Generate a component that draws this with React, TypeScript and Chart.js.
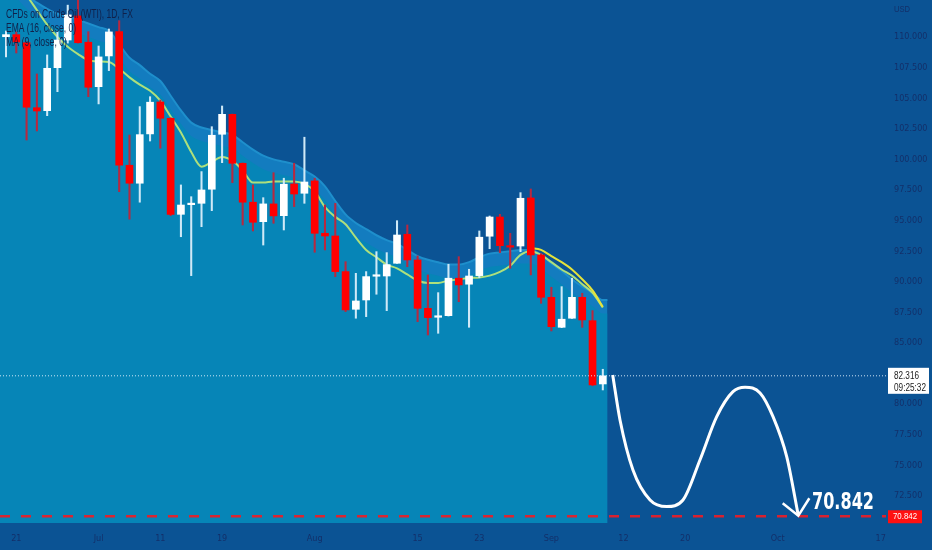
import React, { useEffect, useRef } from 'react';
import { Chart, registerables } from 'chart.js';
Chart.register(...registerables);

// ---- Data ----
const opens = [110.02, 110.19, 109.53, 104.22, 103.98, 107.49, 109.75, 111.72, 109.57, 105.94, 108.45, 110.43, 99.52, 98.05, 102.08, 104.69, 103.36, 95.51, 96.3, 96.41, 97.56, 102.05, 103.68, 99.68, 96.5, 94.91, 96.36, 95.4, 97.99, 97.23, 98.24, 93.96, 93.74, 90.83, 87.75, 88.51, 90.45, 90.47, 91.51, 93.88, 91.78, 87.83, 87.1, 87.23, 90.29, 89.8, 90.5, 93.72, 95.29, 92.93, 92.92, 96.85, 92.19, 88.73, 86.28, 87.02, 88.73, 86.82, 81.65];
const highs = [110.49, 110.41, 109.6, 106.98, 108.53, 110.43, 112.6, 113.5, 110.43, 109.26, 110.65, 111.33, 101.99, 104.31, 105.12, 104.85, 103.4, 97.91, 96.95, 99.0, 102.67, 104.36, 103.7, 99.7, 97.91, 96.87, 98.91, 98.46, 99.68, 101.81, 98.46, 96.27, 96.41, 91.64, 90.69, 90.83, 92.46, 92.38, 94.99, 94.64, 92.11, 90.56, 89.11, 91.43, 92.05, 91.02, 94.15, 95.37, 95.51, 93.96, 97.28, 97.58, 92.3, 89.55, 89.6, 90.29, 89.06, 87.64, 82.85];
const lows = [108.37, 108.69, 101.58, 102.32, 103.57, 105.53, 109.5, 109.5, 105.12, 104.53, 107.25, 97.36, 95.11, 96.5, 101.5, 100.91, 95.4, 93.68, 90.5, 94.5, 95.81, 99.73, 98.1, 94.64, 94.15, 93.0, 94.78, 94.23, 96.14, 96.41, 92.41, 92.6, 90.42, 87.56, 87.02, 87.15, 88.98, 87.64, 91.5, 91.23, 86.74, 85.65, 85.79, 87.2, 88.37, 86.28, 90.33, 92.7, 92.38, 91.1, 92.46, 90.56, 88.24, 85.98, 86.25, 87.0, 86.28, 81.5, 81.16];
const closes = [110.19, 109.59, 104.26, 103.95, 107.44, 109.75, 111.8, 109.53, 105.89, 108.37, 110.41, 99.52, 98.05, 102.02, 104.67, 103.36, 95.51, 96.27, 96.4, 97.5, 101.97, 103.68, 99.68, 96.5, 94.86, 96.36, 95.38, 97.97, 97.17, 98.15, 93.96, 93.74, 90.83, 87.7, 88.43, 90.42, 90.55, 91.4, 93.82, 91.78, 87.83, 87.07, 87.2, 90.29, 89.74, 90.47, 93.64, 95.29, 92.95, 92.83, 96.82, 92.19, 88.73, 86.33, 86.94, 88.73, 86.88, 81.57, 82.316];

const cloudUpper = [115.0, 114.3, 113.4, 112.8, 112.3, 111.9, 111.7, 111.4, 111.1, 110.8, 110.5, 109.4, 108.3, 107.7, 107.0, 106.4, 105.2, 104.0, 103.0, 102.6, 102.4, 102.2, 102.0, 101.4, 100.8, 100.3, 100.0, 99.8, 99.6, 99.1, 98.6, 97.8, 96.6, 95.5, 94.8, 94.3, 93.8, 93.4, 93.1, 92.6, 92.1, 91.8, 91.6, 91.4, 91.4, 91.6, 92.0, 92.3, 92.4, 92.5, 92.6, 92.6, 92.2, 91.5, 90.9, 90.2, 89.6, 89.1, 88.5];
const cloudInner = [113.9, 113.2, 112.3, 111.7, 111.2, 110.8, 110.6, 110.3, 110.0, 109.7, 109.4, 108.3, 107.2, 106.6, 105.9, 105.3, 104.1, 102.9, 101.9, 101.5, 101.3, 101.1, 100.9, 100.3, 99.7, 99.2, 98.9, 98.7, 98.5, 98.0, 97.5, 96.7, 95.5, 94.4, 93.7, 93.2, 92.7, 92.3, 92.0, 91.5, 91.0, 90.7, 90.5, 90.3, 90.3, 90.5, 90.9, 91.2, 91.3, 91.4, 91.5, 91.5, 91.1, 90.4, 89.8, 89.1, 88.5, 88.0, 87.4];
const ma9 = [115.5, 114.5, 113.4, 112.2, 111.0, 110.0, 109.2, 108.6, 108.1, 108.0, 107.95, 107.4, 106.7, 106.1, 105.6, 104.8, 103.5, 102.2, 100.6, 99.4, 99.8, 100.2, 99.9, 99.1, 98.1, 98.1, 98.2, 98.2, 98.2, 98.0, 97.4, 96.1, 95.3, 94.7, 93.6, 92.6, 92.0, 91.4, 91.1, 90.6, 90.1, 89.9, 89.9, 90.1, 90.2, 90.3, 90.35, 90.5, 90.8, 91.3, 92.2, 92.5, 92.2, 91.6, 91.0, 90.5, 89.8, 89.1, 87.9];
const emaTailStart = 51;
const emaTail = [92.75, 92.6, 92.1, 91.6, 91.0, 90.2, 89.3, 87.95];

const xTickIdx = [1, 9, 15, 21, 30, 40, 46, 53, 60, 66, 75, 85];
const xTickLabels = ['21', 'Jul', '11', '19', 'Aug', '15', '23', 'Sep', '12', '20', 'Oct', '17'];
const yTicks = [72.5, 75, 77.5, 80, 82.5, 85, 87.5, 90, 92.5, 95, 97.5, 100, 102.5, 105, 107.5, 110];

const lastPrice = 82.316;
const targetPrice = 70.842;
const countdown = '09:25:32';
const titleLines = ['CFDs on Crude Oil (WTI), 1D, FX', 'EMA (16, close, 0)', 'MA (9, close, 0)'];

const projX = [58.96, 59.67, 60.93, 62.59, 64.21, 65.79, 67.44, 69.07, 70.65, 71.82, 73.28, 74.54, 75.87, 77.0];
const projY = [82.39, 78.71, 74.62, 72.17, 71.63, 72.17, 75.44, 78.98, 81.02, 81.38, 80.92, 78.98, 75.71, 70.9];
const arrowX = [75.48, 77.0, 78.07];
const arrowY = [71.9, 70.89, 72.31];

const X_MIN = -0.583;
const X_MAX = 85.52;
const Y_MIN = 70.29;
const Y_MAX = 113.02;

const BG = '#0b5394';
const AXIS_TXT = '#13306a';
const NARROW = "'Liberation Sans Narrow', 'DejaVu Sans Condensed', 'Liberation Sans', Arial, sans-serif";

function drawFitted(ctx: CanvasRenderingContext2D, text: string, x: number, y: number, width: number, font: string, color: string) {
  ctx.save();
  ctx.font = font;
  const w = ctx.measureText(text).width || 1;
  ctx.translate(x, y);
  ctx.scale(width / w, 1);
  ctx.fillStyle = color;
  ctx.textBaseline = 'middle';
  ctx.textAlign = 'left';
  ctx.fillText(text, 0, 0);
  ctx.restore();
}

const decoPlugin = {
  id: 'deco',
  beforeDraw(chart: any) {
    const ctx = chart.ctx as CanvasRenderingContext2D;
    ctx.save();
    ctx.fillStyle = BG;
    ctx.fillRect(0, 0, chart.width, chart.height);
    ctx.restore();
  },
  afterDraw(chart: any) {
    const ctx = chart.ctx as CanvasRenderingContext2D;
    const ys = chart.scales.y;
    const area = chart.chartArea;
    const tf = "13px 'Liberation Sans', Arial, sans-serif";
    drawFitted(ctx, titleLines[0], 6, 14, 127, tf, '#10214a');
    drawFitted(ctx, titleLines[1], 6, 28, 70, tf, '#10214a');
    drawFitted(ctx, titleLines[2], 6, 42, 61, tf, '#10214a');
    drawFitted(ctx, 'USD', 894, 10, 16, "9px 'Liberation Sans', Arial, sans-serif", AXIS_TXT);
    // last price box
    const py = ys.getPixelForValue(lastPrice);
    ctx.save();
    ctx.fillStyle = '#ffffff';
    ctx.fillRect(area.right + 2, py - 8, 41, 26);
    ctx.restore();
    drawFitted(ctx, lastPrice.toFixed(3), 894, py, 25, "10px 'Liberation Sans', Arial, sans-serif", '#1b1b1b');
    drawFitted(ctx, countdown, 894, py + 12, 32, "10px 'Liberation Sans', Arial, sans-serif", '#1b1b1b');
    // target box
    const ty = ys.getPixelForValue(targetPrice);
    ctx.save();
    ctx.fillStyle = '#ff1111';
    ctx.fillRect(area.right + 2, ty - 6, 34, 13);
    ctx.restore();
    drawFitted(ctx, targetPrice.toFixed(3), 893, ty + 0.5, 24, "9px 'Liberation Sans', Arial, sans-serif", '#ffffff');
    drawFitted(ctx, targetPrice.toFixed(3), 812, ty - 13, 62, "bold 23px 'DejaVu Sans', sans-serif", '#ffffff');
  },
};

export default function App() {
  const ref = useRef<HTMLCanvasElement>(null);
  useEffect(() => {
    document.body.style.margin = '0';
    const canvas = ref.current;
    if (!canvas) return;
    const n = closes.length;
    const idx = closes.map((_, i) => i);
    const up = closes.map((c, i) => c >= opens[i]);
    const lastX = n - 1 + 0.45;
    const cloudPts = (arr: number[]) => [{ x: X_MIN, y: arr[0] }, ...arr.map((v, i) => ({ x: i, y: v })), { x: lastX, y: arr[n - 1] }];

    const chart = new Chart(canvas, {
      type: 'line',
      data: {
        datasets: [
          {
            type: 'line', label: 'cloud', data: cloudPts(cloudUpper), order: 20,
            borderColor: '#1e8fcc', borderWidth: 2, backgroundColor: '#137cbf', fill: 'start',
            pointRadius: 0, cubicInterpolationMode: 'monotone',
          },
          {
            type: 'line', label: 'cloudInner', data: cloudPts(cloudInner), order: 19,
            borderColor: 'rgba(0,0,0,0)', borderWidth: 0, backgroundColor: '#0685b7', fill: 'start',
            pointRadius: 0, cubicInterpolationMode: 'monotone',
          },
          {
            type: 'line', label: 'MA 9', data: ma9.map((v, i) => ({ x: i, y: v })), order: 15,
            borderColor: '#ade07c', borderWidth: 2, pointRadius: 0, fill: false, cubicInterpolationMode: 'monotone',
          },
          {
            type: 'line', label: 'EMA 16', data: emaTail.map((v, i) => ({ x: emaTailStart + i, y: v })), order: 14,
            borderColor: '#e6e33a', borderWidth: 2, pointRadius: 0, fill: false, cubicInterpolationMode: 'monotone',
          },
          {
            type: 'bar', label: 'wicks', data: idx.map((i) => ({ x: i, y: [lows[i], highs[i]] })) as any, order: 12,
            backgroundColor: idx.map((i) => (up[i] ? '#cfe9f7' : '#b8283f')),
            grouped: false, barPercentage: 1, categoryPercentage: 1, maxBarThickness: 1.4, borderWidth: 0,
          } as any,
          {
            type: 'bar', label: 'bodies', data: idx.map((i) => ({ x: i, y: [Math.min(opens[i], closes[i]), Math.max(opens[i], closes[i])] })) as any, order: 11,
            backgroundColor: idx.map((i) => (up[i] ? '#ffffff' : '#ff0000')),
            grouped: false, barPercentage: 1, categoryPercentage: 1, maxBarThickness: 7, borderWidth: 0, minBarLength: 1.5,
          } as any,
          {
            type: 'line', label: 'last', data: [{ x: X_MIN, y: lastPrice }, { x: X_MAX, y: lastPrice }], order: 5,
            borderColor: 'rgba(225,242,255,0.9)', borderWidth: 1, borderDash: [1, 2], pointRadius: 0, fill: false,
          },
          {
            type: 'line', label: 'target', data: [{ x: X_MIN, y: targetPrice }, { x: X_MAX, y: targetPrice }], order: 5,
            borderColor: 'rgba(240,28,36,0.9)', borderWidth: 2.6, borderDash: [10, 11], pointRadius: 0, fill: false,
          },
          {
            type: 'line', label: 'projection', data: projX.map((x, i) => ({ x, y: projY[i] })), order: 2,
            borderColor: '#ffffff', borderWidth: 3, pointRadius: 0, fill: false, cubicInterpolationMode: 'monotone',
          },
          {
            type: 'line', label: 'arrow', data: arrowX.map((x, i) => ({ x, y: arrowY[i] })), order: 1,
            borderColor: '#ffffff', borderWidth: 2.5, pointRadius: 0, fill: false, tension: 0,
          },
        ] as any,
      },
      options: {
        animation: false,
        responsive: false,
        devicePixelRatio: 1,
        events: [],
        layout: { padding: 0 },
        plugins: { legend: { display: false }, tooltip: { enabled: false } },
        scales: {
          x: {
            type: 'linear', min: X_MIN, max: X_MAX, offset: false, bounds: 'data',
            grid: { display: false, drawTicks: false }, border: { display: false },
            afterBuildTicks: (s: any) => { s.ticks = xTickIdx.map((v) => ({ value: v })); },
            afterFit: (s: any) => { s.height = 27; s.paddingLeft = 0; s.paddingRight = 0; s.paddingTop = 0; s.paddingBottom = 0; },
            ticks: {
              autoSkip: false, maxRotation: 0, padding: 10, color: AXIS_TXT,
              font: { family: NARROW, size: 9 },
              callback: (_v: any, i: number) => xTickLabels[i],
            },
          },
          y: {
            type: 'linear', position: 'right', min: Y_MIN, max: Y_MAX, bounds: 'data',
            grid: { display: false, drawTicks: false }, border: { display: false },
            afterBuildTicks: (s: any) => { s.ticks = yTicks.map((v) => ({ value: v })); },
            afterFit: (s: any) => { s.width = 46; s.paddingLeft = 0; s.paddingRight = 0; s.paddingTop = 0; s.paddingBottom = 0; },
            ticks: {
              padding: 8, color: AXIS_TXT, font: { family: NARROW, size: 9 },
              callback: (v: any) => Number(v).toFixed(3),
            },
          },
        },
      } as any,
      plugins: [decoPlugin],
    });
    return () => chart.destroy();
  }, []);
  return (
    <div style={{ width: 932, height: 550 }}>
      <canvas ref={ref} width={932} height={550} style={{ display: 'block' }} />
    </div>
  );
}
